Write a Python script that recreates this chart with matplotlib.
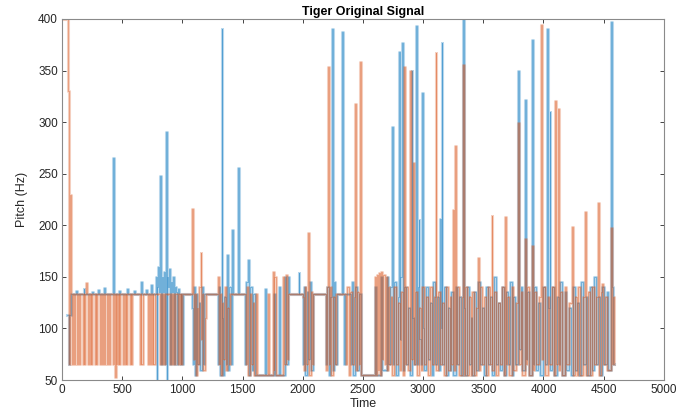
import matplotlib
matplotlib.use("Agg")
import matplotlib.pyplot as plt
import numpy as np

# (time, pitch Hz) breakpoints, drawn as steps
BLUE = [
    (45, 113), (55, 66), (62, 113), (72, 133),
    (120, 136), (128, 133), (180, 138), (186, 133), (250, 135), (258, 133),
    (300, 137), (306, 133), (350, 139), (356, 133),
    (420, 265), (428, 140), (434, 133), (470, 136), (478, 133), (540, 138),
    (546, 133), (600, 136), (606, 133), (660, 145), (666, 133), (700, 137),
    (706, 133), (740, 142), (746, 133),
    (780, 150), (786, 50), (792, 140), (800, 160), (806, 135), (814, 248),
    (820, 145), (826, 66), (832, 150), (840, 135), (848, 155), (856, 66),
    (864, 290), (870, 50), (876, 150), (884, 140), (892, 158), (900, 66),
    (906, 145), (914, 135), (922, 150), (930, 66), (938, 140), (946, 135),
    (955, 66), (962, 138), (970, 133), (985, 66), (992, 133), (1000, 66),
    (1005, 133), (1080, 120), (1088, 66), (1096, 140), (1104, 55), (1115, 133),
    (1125, 66), (1135, 125), (1145, 60), (1160, 140), (1170, 66), (1180, 133),
    (1296, 66), (1305, 140), (1314, 55), (1326, 390), (1332, 110), (1340, 55),
    (1350, 130), (1360, 66), (1372, 171), (1378, 60), (1390, 140), (1400, 66),
    (1412, 195), (1418, 133), (1462, 256), (1468, 133), (1520, 66), (1530, 145),
    (1546, 166), (1552, 55), (1565, 140), (1575, 60), (1590, 133), (1600, 55),
    (1690, 138), (1698, 55), (1760, 133), (1770, 55), (1800, 140), (1808, 55),
    (1855, 150), (1862, 66), (1875, 150), (1885, 133),
    (1967, 154), (1973, 133), (2000, 66), (2010, 140), (2020, 55), (2035, 135),
    (2045, 70), (2060, 145), (2070, 60), (2085, 133),
    (2195, 66), (2205, 140), (2215, 55), (2230, 130), (2244, 390), (2250, 60),
    (2262, 145), (2272, 66), (2285, 133), (2327, 387), (2333, 133), (2345, 66),
    (2355, 133), (2400, 66), (2410, 145), (2420, 55), (2435, 140), (2450, 60),
    (2465, 133), (2480, 55),
    (2600, 140), (2608, 55), (2650, 150), (2660, 60), (2700, 150), (2710, 66),
    (2725, 140), (2740, 295), (2746, 66), (2760, 145), (2775, 55), (2790, 130),
    (2800, 368), (2806, 90), (2812, 150), (2825, 377), (2831, 60), (2845, 140),
    (2860, 66), (2875, 120), (2890, 55), (2905, 350), (2911, 110), (2925, 66),
    (2940, 393), (2946, 66), (2955, 140), (2965, 205), (2970, 90), (2980, 66),
    (2990, 328), (2996, 100), (3010, 60), (3025, 140), (3040, 70), (3055, 125),
    (3070, 55), (3085, 145), (3100, 66), (3115, 130), (3130, 60), (3139, 206),
    (3145, 100), (3155, 377), (3161, 66), (3175, 140), (3190, 55), (3205, 120),
    (3220, 60), (3235, 135), (3250, 55), (3270, 140), (3285, 66), (3300, 130),
    (3315, 55), (3332, 400), (3338, 120), (3350, 55), (3365, 140), (3380, 66),
    (3395, 110), (3410, 55), (3425, 135), (3440, 60), (3460, 145), (3475, 66),
    (3490, 120), (3505, 55), (3520, 140), (3540, 66), (3555, 130), (3570, 55),
    (3590, 150), (3605, 66), (3620, 125), (3640, 60), (3655, 140), (3670, 55),
    (3690, 135), (3705, 66), (3720, 145), (3735, 55), (3750, 130), (3765, 66),
    (3790, 350), (3796, 80), (3810, 140), (3825, 60), (3846, 321), (3852, 70),
    (3865, 135), (3880, 55), (3905, 380), (3911, 66), (3925, 140), (3940, 60),
    (3955, 125), (3970, 55), (4000, 140), (4015, 66), (4030, 390), (4036, 120),
    (4052, 310), (4058, 60), (4075, 140), (4090, 55), (4110, 130), (4125, 66),
    (4140, 145), (4155, 55), (4175, 135), (4190, 60), (4210, 120), (4225, 55),
    (4245, 140), (4260, 60), (4280, 125), (4295, 55), (4315, 145), (4330, 66),
    (4350, 130), (4365, 55), (4385, 140), (4400, 60), (4420, 150), (4435, 66),
    (4455, 130), (4470, 55), (4490, 140), (4505, 66), (4525, 135), (4540, 60),
    (4560, 397), (4566, 140), (4580, 66), (4585, 66),
]

ORANGE = [
    (15, 400), (48, 330), (56, 66), (68, 229), (78, 133), (83, 66), (92, 133),
    (98, 66), (108, 133), (125, 66), (135, 133), (141, 66), (150, 133),
    (174, 66), (182, 133), (186, 66), (191, 133), (200, 144), (204, 133),
    (216, 66), (224, 133), (230, 66), (240, 133), (244, 66), (249, 133),
    (274, 66), (282, 133), (286, 66), (291, 133),
    (315, 66), (324, 133), (330, 66), (340, 133), (346, 66), (357, 133),
    (374, 66), (382, 133), (388, 66), (398, 133),
    (423, 66), (432, 133), (438, 53), (448, 133), (452, 66), (457, 133),
    (465, 66), (472, 133), (476, 66), (481, 133),
    (506, 66), (514, 133), (520, 66), (530, 133), (535, 66), (540, 133),
    (564, 66), (572, 133), (576, 66), (581, 133),
    (647, 66), (655, 133), (660, 66), (672, 133),
    (714, 66), (722, 133), (728, 66), (738, 133), (744, 66), (754, 133),
    (760, 66), (772, 133),
    (813, 66), (822, 133), (828, 66), (838, 133), (846, 66), (855, 133),
    (897, 66), (906, 133), (912, 66), (922, 133), (930, 66), (938, 133),
    (963, 66), (972, 133), (978, 66), (988, 133), (992, 66), (996, 133),
    (1081, 216), (1088, 133), (1095, 70), (1105, 133), (1112, 55), (1120, 120),
    (1128, 66), (1140, 140), (1152, 173), (1158, 90), (1166, 133), (1175, 60),
    (1185, 110), (1195, 133),
    (1296, 150), (1302, 66), (1310, 133), (1318, 55), (1330, 125), (1340, 70),
    (1352, 140), (1360, 60), (1372, 120), (1385, 66), (1398, 133),
    (1525, 66), (1535, 140), (1545, 55), (1560, 133), (1570, 66), (1585, 125),
    (1595, 55), (1610, 133), (1620, 55),
    (1710, 133), (1718, 55), (1750, 155), (1758, 60), (1765, 150), (1775, 55),
    (1840, 150), (1848, 66), (1858, 152), (1866, 70), (1880, 133),
    (2000, 130), (2008, 60), (2020, 140), (2030, 66), (2045, 193), (2051, 55),
    (2065, 135), (2075, 66), (2088, 133),
    (2190, 60), (2200, 140), (2210, 353), (2216, 66), (2228, 140), (2238, 55),
    (2255, 130), (2265, 66), (2278, 133),
    (2360, 66), (2370, 140), (2382, 55), (2395, 135), (2410, 66), (2422, 130),
    (2434, 318), (2440, 60), (2455, 135), (2468, 66), (2475, 358), (2481, 55),
    (2600, 150), (2608, 55), (2615, 152), (2625, 60), (2632, 154), (2640, 55),
    (2650, 155), (2660, 70), (2668, 152), (2680, 66), (2690, 150), (2700, 60),
    (2710, 140), (2720, 66), (2730, 130), (2745, 55), (2760, 140), (2775, 66),
    (2790, 125), (2805, 60), (2820, 135), (2830, 55), (2841, 353), (2847, 66),
    (2860, 140), (2875, 60), (2895, 350), (2901, 70), (2915, 260), (2921, 66),
    (2935, 135), (2950, 55), (2965, 120), (2980, 60), (2995, 140), (3010, 66),
    (3025, 130), (3040, 55), (3060, 140), (3075, 66), (3092, 130), (3105, 367),
    (3111, 60), (3125, 135), (3140, 66), (3160, 125), (3175, 55), (3190, 140),
    (3205, 60), (3220, 130), (3235, 66), (3250, 215), (3256, 60), (3264, 277),
    (3270, 66), (3285, 140), (3300, 55), (3320, 130), (3332, 355), (3338, 55),
    (3350, 140), (3365, 55), (3380, 130), (3395, 55), (3410, 135), (3425, 55),
    (3440, 120), (3456, 168), (3462, 60), (3475, 140), (3490, 66), (3505, 130),
    (3520, 55), (3540, 140), (3555, 66), (3570, 209), (3576, 60), (3590, 135),
    (3605, 55), (3620, 125), (3640, 66), (3655, 140), (3670, 55), (3680, 208),
    (3686, 66), (3700, 130), (3715, 55), (3735, 140), (3750, 60), (3775, 125),
    (3790, 299), (3796, 66), (3810, 135), (3825, 55), (3846, 187), (3852, 66),
    (3865, 140), (3880, 55), (3905, 180), (3911, 60), (3925, 135), (3940, 66),
    (3960, 130), (3980, 394), (3986, 70), (4000, 140), (4015, 55), (4035, 130),
    (4050, 66), (4070, 140), (4085, 55), (4094, 320), (4100, 66), (4120, 313),
    (4126, 60), (4140, 135), (4155, 55), (4175, 140), (4190, 66), (4210, 125),
    (4236, 198), (4242, 55), (4260, 130), (4275, 55), (4290, 140), (4305, 55),
    (4325, 130), (4344, 213), (4350, 55), (4370, 135), (4385, 55), (4405, 140),
    (4420, 66), (4440, 130), (4452, 222), (4458, 55), (4475, 135), (4490, 143),
    (4496, 66), (4515, 130), (4530, 60), (4560, 197), (4566, 66), (4580, 130),
    (4585, 66),
]

X_TICKS = np.arange(0, 5001, 500)
Y_TICKS = np.arange(50, 401, 50)

blue_t, blue_hz = np.array(BLUE).T
orange_t, orange_hz = np.array(ORANGE).T

plt.rcParams["font.family"] = ["Liberation Sans", "DejaVu Sans"]

fig = plt.figure(figsize=(6.91, 4.15), dpi=100)
ax = fig.add_axes([0.0897, 0.0843, 0.871, 0.870])

# wide translucent band plus a thin core, like the blurred MATLAB lines
ax.plot(blue_t, blue_hz, drawstyle="steps-post", color="#0072BD",
        lw=2.2, alpha=0.28)
ax.plot(blue_t, blue_hz, drawstyle="steps-post", color="#0072BD",
        lw=0.5, alpha=0.55)
ax.plot(orange_t, orange_hz, drawstyle="steps-post", color="#D95319",
        lw=2.2, alpha=0.28)
ax.plot(orange_t, orange_hz, drawstyle="steps-post", color="#D95319",
        lw=0.5, alpha=0.55)

ax.set_xlim(0, 5000)
ax.set_ylim(50, 400)
ax.set_xticks(X_TICKS)
ax.set_yticks(Y_TICKS)
ax.tick_params(direction="in", top=True, right=True, length=3, width=0.6,
               labelsize=8.5, colors="#262626", pad=3)
for s in ax.spines.values():
    s.set_color("#8a8a8a")
    s.set_linewidth(0.8)

ax.set_title("Tiger Original Signal", fontsize=9, fontweight="bold", pad=3)
ax.set_xlabel("Time", fontsize=9, labelpad=1, color="#262626")
ax.set_ylabel("Pitch (Hz)", fontsize=9, labelpad=7, color="#262626")

fig.savefig("out.png", dpi=100)
